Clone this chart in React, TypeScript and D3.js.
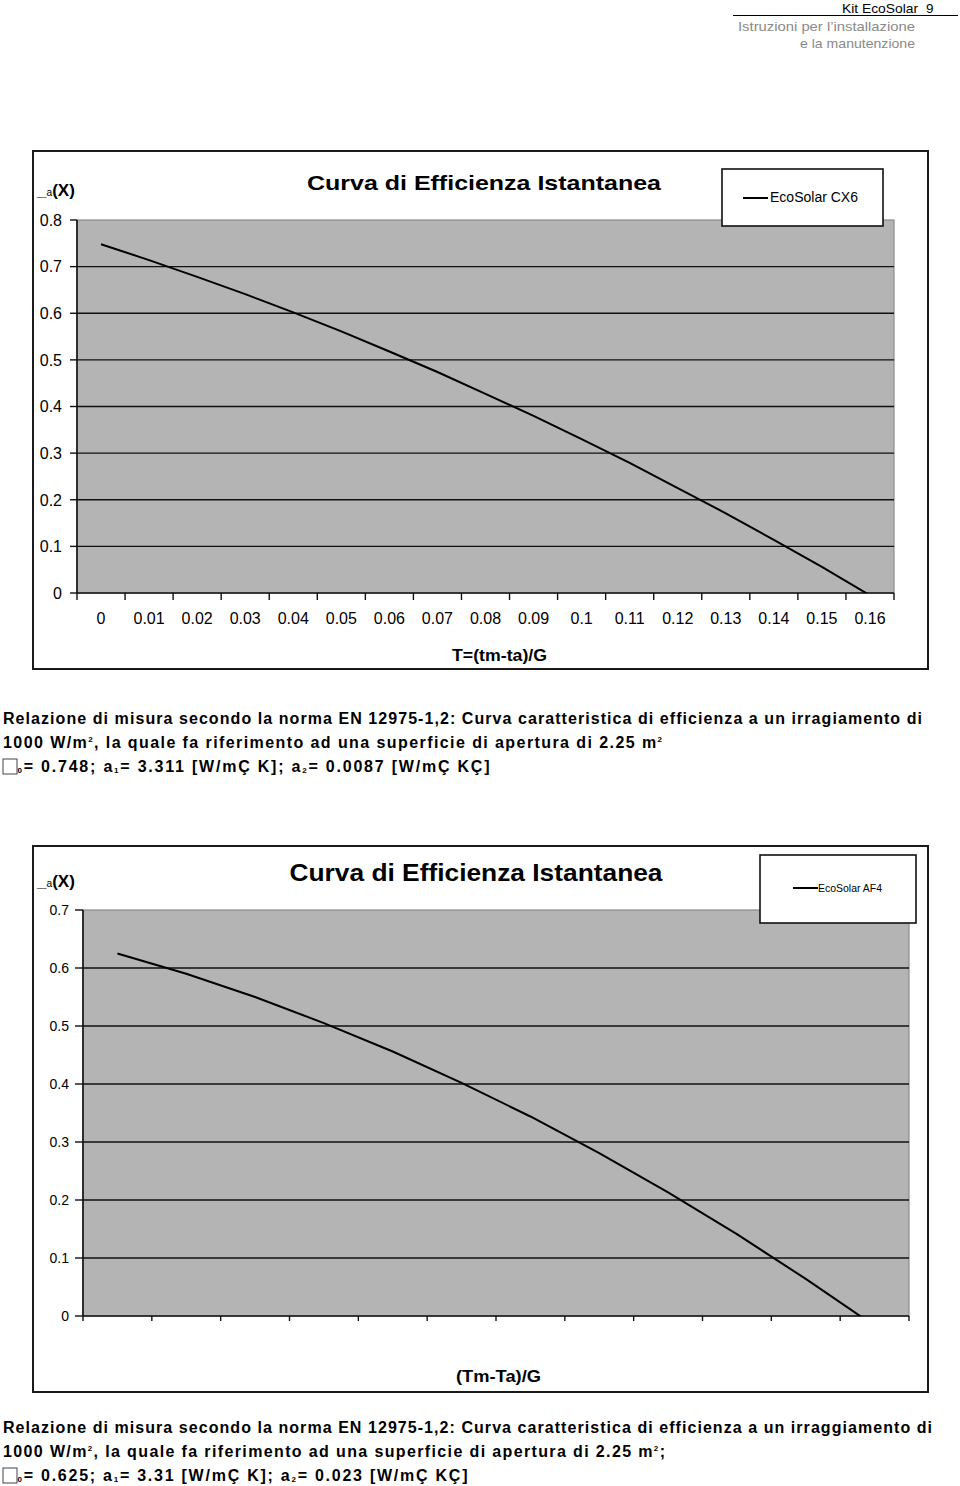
import React from "react";
import * as d3 from "d3";

// ---------- data ----------
const topCategories = ["0", "0.01", "0.02", "0.03", "0.04", "0.05", "0.06", "0.07", "0.08", "0.09", "0.1", "0.11", "0.12", "0.13", "0.14", "0.15", "0.16"];
const topEfficiency = [0.748, 0.714, 0.678, 0.641, 0.602, 0.561, 0.518, 0.474, 0.427, 0.380, 0.330, 0.279, 0.225, 0.171, 0.114, 0.056, -0.005];
const topYTicks = [0, 0.1, 0.2, 0.3, 0.4, 0.5, 0.6, 0.7, 0.8];
const topYLabels = ["0", "0.1", "0.2", "0.3", "0.4", "0.5", "0.6", "0.7", "0.8"];

const bottomCategories = ["0", "0.01", "0.02", "0.03", "0.04", "0.05", "0.06", "0.07", "0.08", "0.09", "0.1", "0.11"];
const bottomEfficiency = [0.625, 0.590, 0.550, 0.505, 0.456, 0.402, 0.344, 0.281, 0.213, 0.141, 0.064, -0.017];
const bottomYTicks = [0, 0.1, 0.2, 0.3, 0.4, 0.5, 0.6, 0.7];
const bottomYLabels = ["0", "0.1", "0.2", "0.3", "0.4", "0.5", "0.6", "0.7"];

const chartTitle = "Curva di Efficienza Istantanea";
const topSeriesName = "EcoSolar CX6";
const bottomSeriesName = "EcoSolar AF4";
const topXTitle = "T=(tm-ta)/G";
const bottomXTitle = "(Tm-Ta)/G";

const FONT = "'Liberation Sans', Arial, Helvetica, sans-serif";

type ChartProps = {
  id: string;
  frame: { x: number; y: number; w: number; h: number };
  plot: { left: number; right: number; top: number; bottom: number };
  cats: string[];
  values: number[];
  yTicks: number[];
  yLabels: string[];
  yMax: number;
  showXLabels: boolean;
  tickFont: number;
  yLabelRight: number;
  yTickLeft: number;
  xTickLen: number;
  title: { cx: number; y: number; size: number; len: number };
  yTitle: { x: number; y: number; size: number };
  legend: { x: number; y: number; w: number; h: number; lx1: number; lx2: number; ly: number; tx: number; ty: number; size: number; len: number; name: string };
  xTitle: { x: number; y: number; size: number; len: number; text: string };
  xLabelY: number;
};

function Chart(p: ChartProps) {
  const x = d3.scaleBand<string>().domain(p.cats).range([p.plot.left, p.plot.right]).paddingInner(0).paddingOuter(0);
  const y = d3.scaleLinear().domain([0, p.yMax]).range([p.plot.bottom, p.plot.top]);
  const bw = x.bandwidth();
  const line = d3
    .line<number>()
    .x((_, i) => (x(p.cats[i]) as number) + bw / 2)
    .y((d) => y(d));
  const boundaries = p.cats.map((c) => x(c) as number).concat([p.plot.right]);
  return (
    <g>
      <defs>
        <clipPath id={p.id + "-clip"}>
          <rect x={p.plot.left} y={p.plot.top} width={p.plot.right - p.plot.left} height={p.plot.bottom - p.plot.top} />
        </clipPath>
      </defs>
      <rect x={p.frame.x} y={p.frame.y} width={p.frame.w} height={p.frame.h} fill="#fff" stroke="#1a1a1a" strokeWidth={2} />
      <rect x={p.plot.left} y={p.plot.top} width={p.plot.right - p.plot.left} height={p.plot.bottom - p.plot.top} fill="#b4b4b4" stroke="#8a8a8a" strokeWidth={1.2} />
      {p.yTicks.slice(1, -1).map((t) => (
        <line key={"g" + t} x1={p.plot.left} x2={p.plot.right} y1={y(t)} y2={y(t)} stroke="#111" strokeWidth={1.4} />
      ))}
      <line x1={p.plot.left} x2={p.plot.left} y1={p.plot.top} y2={p.plot.bottom} stroke="#111" strokeWidth={1.6} />
      {p.yTicks.map((t, i) => (
        <g key={"yt" + t}>
          <line x1={p.yTickLeft} x2={p.plot.left} y1={y(t)} y2={y(t)} stroke="#111" strokeWidth={1.4} />
          <text x={p.yLabelRight} y={y(t)} dy="0.36em" textAnchor="end" fontSize={p.tickFont} fontFamily={FONT} fill="#000">
            {p.yLabels[i]}
          </text>
        </g>
      ))}
      <line x1={p.plot.left} x2={p.plot.right} y1={p.plot.bottom} y2={p.plot.bottom} stroke="#111" strokeWidth={1.6} />
      {boundaries.map((b, i) => (
        <line key={"xt" + i} x1={b} x2={b} y1={p.plot.bottom} y2={p.plot.bottom + p.xTickLen} stroke="#111" strokeWidth={1.4} />
      ))}
      {p.showXLabels &&
        p.cats.map((c) => (
          <text key={"xl" + c} x={(x(c) as number) + bw / 2} y={p.xLabelY} textAnchor="middle" fontSize={p.tickFont} fontFamily={FONT} fill="#000">
            {c}
          </text>
        ))}
      <path d={line(p.values) || ""} fill="none" stroke="#000" strokeWidth={2} clipPath={`url(#${p.id}-clip)`} />
      <text x={p.title.cx} y={p.title.y} textAnchor="middle" fontSize={p.title.size} fontWeight="bold" fontFamily={FONT} textLength={p.title.len} lengthAdjust="spacingAndGlyphs">
        {chartTitle}
      </text>
      <text x={p.yTitle.x} y={p.yTitle.y} fontFamily={FONT} fontWeight="bold" fontSize={p.yTitle.size}>
        <tspan>_</tspan>
        <tspan fontSize={p.yTitle.size * 0.6} fontWeight="normal">a</tspan>
        <tspan>(X)</tspan>
      </text>
      <rect x={p.legend.x} y={p.legend.y} width={p.legend.w} height={p.legend.h} fill="#fff" stroke="#111" strokeWidth={1.6} />
      <line x1={p.legend.lx1} x2={p.legend.lx2} y1={p.legend.ly} y2={p.legend.ly} stroke="#000" strokeWidth={2} />
      <text x={p.legend.tx} y={p.legend.ty} fontSize={p.legend.size} fontFamily={FONT} textLength={p.legend.len} lengthAdjust="spacingAndGlyphs">
        {p.legend.name}
      </text>
      <text x={p.xTitle.x} y={p.xTitle.y} fontSize={p.xTitle.size} fontWeight="bold" fontFamily={FONT} textLength={p.xTitle.len} lengthAdjust="spacingAndGlyphs">
        {p.xTitle.text}
      </text>
    </g>
  );
}

const PF = 16;
const SUB = 8;

function Coeffs({ y, len, eta, a1, a2 }: { y: number; len: number; eta: string; a1: string; a2: string }) {
  return (
    <g>
      <rect x={3} y={y - 13} width={14} height={15} fill="#fff" stroke="#444" strokeWidth={1} />
      <text x={17.5} y={y} fontSize={PF} fontWeight="bold" fontFamily={FONT} textLength={len} lengthAdjust="spacing">
        <tspan fontSize={SUB} dy={1}>0</tspan>
        <tspan dy={-1}>= {eta}; a</tspan>
        <tspan fontSize={SUB} dy={1}>1</tspan>
        <tspan dy={-1}>= {a1} [W/mÇ K]; a</tspan>
        <tspan fontSize={SUB} dy={1}>2</tspan>
        <tspan dy={-1}>= {a2} [W/mÇ KÇ]</tspan>
      </text>
    </g>
  );
}

export default function App() {
  return (
    <svg width={960} height={1486} style={{ position: "absolute", left: 0, top: 0, background: "#fff" }}>
      <rect x={0} y={0} width={960} height={1486} fill="#fff" />
      <text x={842} y={13} fontSize={13.5} fontFamily={FONT} fill="#000" textLength={76} lengthAdjust="spacingAndGlyphs">Kit EcoSolar</text>
      <text x={926} y={13} fontSize={13.5} fontFamily={FONT} fill="#000">9</text>
      <line x1={733} x2={958} y1={15.5} y2={15.5} stroke="#000" strokeWidth={1} />
      <text x={738} y={31} fontSize={13} fontFamily={FONT} fill="#8a8a8a" textLength={177} lengthAdjust="spacingAndGlyphs">Istruzioni per l’installazione</text>
      <text x={800} y={48} fontSize={13} fontFamily={FONT} fill="#8a8a8a" textLength={115} lengthAdjust="spacingAndGlyphs">e la manutenzione</text>

      <Chart
        id="top"
        frame={{ x: 33, y: 151, w: 895, h: 518 }}
        plot={{ left: 77, right: 894, top: 220, bottom: 593 }}
        cats={topCategories}
        values={topEfficiency}
        yTicks={topYTicks}
        yLabels={topYLabels}
        yMax={0.8}
        showXLabels={true}
        tickFont={16}
        yLabelRight={62}
        yTickLeft={70}
        xTickLen={7}
        xLabelY={624}
        title={{ cx: 484, y: 190, size: 21, len: 354 }}
        yTitle={{ x: 37, y: 196, size: 17 }}
        legend={{ x: 722, y: 169, w: 161, h: 57, lx1: 743, lx2: 768, ly: 198, tx: 770, ty: 202, size: 14, len: 88, name: topSeriesName }}
        xTitle={{ x: 452, y: 661, size: 17, len: 95, text: topXTitle }}
      />

      <text x={3} y={724} fontSize={PF} fontWeight="bold" fontFamily={FONT} textLength={919} lengthAdjust="spacing">
        Relazione di misura secondo la norma EN 12975-1,2: Curva caratteristica di efficienza a un irragiamento di
      </text>
      <text x={3} y={748} fontSize={PF} fontWeight="bold" fontFamily={FONT} textLength={659} lengthAdjust="spacing">
        1000 W/m<tspan fontSize={SUB} dy={-6}>2</tspan><tspan dy={6}>, la quale fa riferimento ad una superficie di apertura di 2.25 m</tspan><tspan fontSize={SUB} dy={-6}>2</tspan>
      </text>
      <Coeffs y={772} len={472} eta="0.748" a1="3.311" a2="0.0087" />

      <Chart
        id="bottom"
        frame={{ x: 33, y: 846, w: 895, h: 546 }}
        plot={{ left: 83, right: 909, top: 910, bottom: 1316 }}
        cats={bottomCategories}
        values={bottomEfficiency}
        yTicks={bottomYTicks}
        yLabels={bottomYLabels}
        yMax={0.7}
        showXLabels={false}
        tickFont={14}
        yLabelRight={69}
        yTickLeft={75}
        xTickLen={5}
        xLabelY={1340}
        title={{ cx: 476, y: 881, size: 23, len: 373 }}
        yTitle={{ x: 37, y: 887, size: 17 }}
        legend={{ x: 760, y: 855, w: 156, h: 68, lx1: 793, lx2: 818, ly: 888, tx: 818, ty: 892, size: 11, len: 64, name: bottomSeriesName }}
        xTitle={{ x: 456, y: 1382, size: 17, len: 85, text: bottomXTitle }}
      />

      <text x={3} y={1433} fontSize={PF} fontWeight="bold" fontFamily={FONT} textLength={929} lengthAdjust="spacing">
        Relazione di misura secondo la norma EN 12975-1,2: Curva caratteristica di efficienza a un irraggiamento di
      </text>
      <text x={3} y={1457} fontSize={PF} fontWeight="bold" fontFamily={FONT} textLength={662} lengthAdjust="spacing">
        1000 W/m<tspan fontSize={SUB} dy={-6}>2</tspan><tspan dy={6}>, la quale fa riferimento ad una superficie di apertura di 2.25 m</tspan><tspan fontSize={SUB} dy={-6}>2</tspan><tspan dy={6}>;</tspan>
      </text>
      <Coeffs y={1481} len={450} eta="0.625" a1="3.31" a2="0.023" />
    </svg>
  );
}
